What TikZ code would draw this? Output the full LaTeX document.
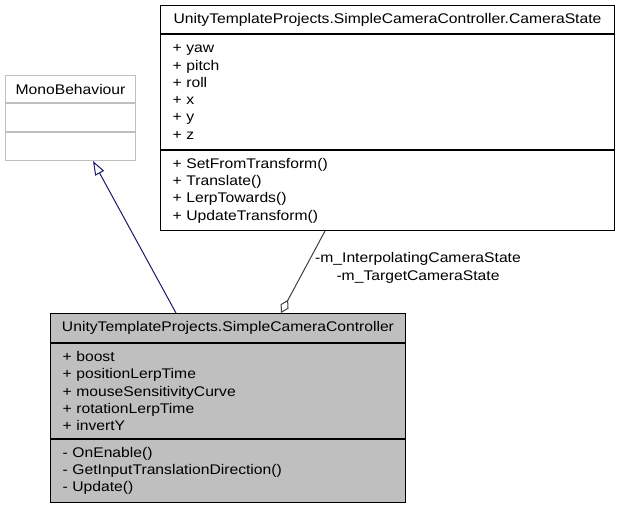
\documentclass[tikz,border=0pt]{standalone}
\usepackage{fontspec}
\setmainfont[FakeStretch=1.12]{Liberation Sans}
\usetikzlibrary{arrows.meta}
\definecolor{extgray}{HTML}{BFBFBF}
\definecolor{ctrlfill}{HTML}{BFBFBF}
\definecolor{inhblue}{HTML}{191970}
\definecolor{aggrgray}{HTML}{404040}
\newcommand\umlfont{\fontsize{14}{17.3}\selectfont}
\tikzset{
  umlpart/.style={draw=black, line width=1pt, anchor=north west, inner xsep=12pt, inner ysep=0pt, align=left, font=\umlfont},
  umlname/.style={umlpart, inner xsep=5pt, align=center},
  extpart/.style={draw=extgray, line width=1pt, anchor=north west, inner sep=0pt, minimum width=130pt, font=\umlfont}
}
\begin{document}
\begin{tikzpicture}[x=1pt, y=-1pt]
\useasboundingbox[fill=white] (0,0) rectangle (619,507);
% external base class
\node[extpart, minimum height=27pt] (mono-name) at (5,75) {MonoBehaviour};
\node[extpart, minimum height=28pt] (mono-attr) at (mono-name.south west) {};
\node[extpart, minimum height=28pt] (mono-ops) at (mono-attr.south west) {};
% nested state class
\node[umlname, text width=444pt, minimum height=28pt] (state-name) at (160,5) {UnityTemplateProjects.SimpleCameraController.CameraState};
\node[umlpart, text width=430pt, minimum height=115pt] (state-attr) at (state-name.south west) {+ yaw\\+ pitch\\+ roll\\+ x\\+ y\\+ z};
\node[umlpart, text width=430pt, minimum height=80pt] (state-ops) at (state-attr.south west) {+ SetFromTransform()\\+ Translate()\\+ LerpTowards()\\+ UpdateTransform()};
% documented class
\node[umlname, fill=ctrlfill, text width=345pt, minimum height=29pt] (ctrl-name) at (50,313) {UnityTemplateProjects.SimpleCameraController};
\node[umlpart, fill=ctrlfill, text width=331pt, minimum height=95pt] (ctrl-attr) at (ctrl-name.south west) {+ boost\\+ positionLerpTime\\+ mouseSensitivityCurve\\+ rotationLerpTime\\+ invertY};
\node[umlpart, fill=ctrlfill, text width=331pt, minimum height=63pt] (ctrl-ops) at (ctrl-attr.south west) {- OnEnable()\\- GetInputTranslationDirection()\\- Update()};
% relations
\draw[inhblue, line width=1pt, -{Triangle[open, length=14pt, width=10pt]}] ([xshift=126pt]ctrl-name.north west) -- ([xshift=88pt]mono-ops.south west);
\draw[aggrgray, line width=1pt, -{Diamond[open, length=15pt, width=9pt]}] ([xshift=165pt]state-ops.south west) -- ([xshift=231pt]ctrl-name.north west);
\node[font=\umlfont, align=center, inner sep=0pt] (aggr-label) at (418,268) {-m\_InterpolatingCameraState\\-m\_TargetCameraState};
\end{tikzpicture}
\end{document}
